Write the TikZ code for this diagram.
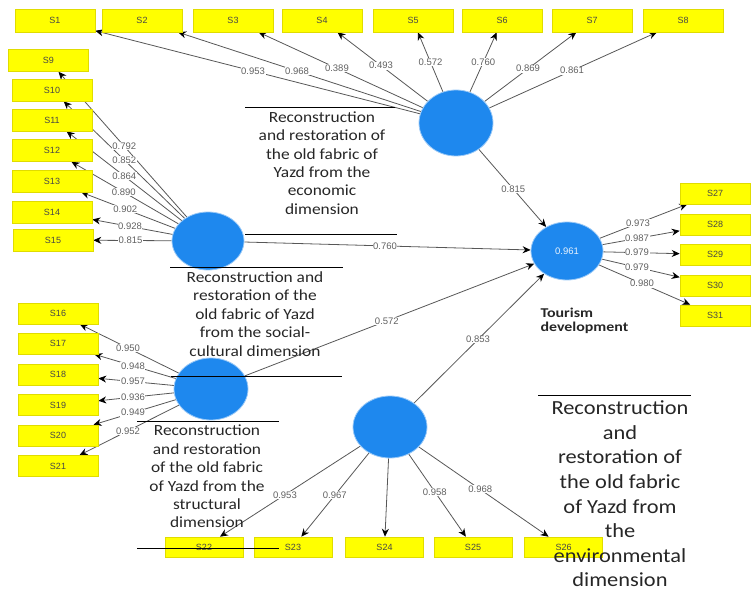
\documentclass[tikz,border=0pt]{standalone}
\usepackage{fontspec}
\setmainfont{Carlito}
\newfontfamily\labfont[FakeStretch=1.12]{Carlito}
\newfontfamily\numfont{Liberation Sans}
\newfontfamily\tourfont[FakeStretch=1.18]{Carlito}
\usetikzlibrary{shapes.geometric,arrows.meta,calc}
\pgfdeclarelayer{bg}
\pgfsetlayers{bg,main}
\definecolor{latblue}{HTML}{1E88EE}
\definecolor{boxyel}{HTML}{FFFF00}
\definecolor{boxedge}{HTML}{E0DC00}
\begin{document}
\begin{tikzpicture}[x=1pt,y=-1pt,
  ind/.style={draw=boxedge, fill=boxyel, line width=0.6pt, inner sep=0pt,
    font=\numfont\fontsize{9}{10}\selectfont, text=black!72},
  topind/.style={ind, minimum width=80pt, minimum height=23pt},
  leftind/.style={ind, minimum width=80pt, minimum height=22pt},
  strind/.style={ind, minimum width=80pt, minimum height=21pt},
  rightind/.style={ind, minimum width=70pt, minimum height=21pt},
  botind/.style={ind, minimum width=78pt, minimum height=20pt},
  lat/.style={ellipse, fill=latblue, draw=latblue!45!white, line width=0.8pt, inner sep=0pt},
  conn/.style={draw=black!66, line width=0.8pt, -{Stealth[length=8pt,width=7pt,color=black]}},
  ld/.style={fill=white, inner sep=0.6pt, font=\numfont\fontsize{9.5}{10}\selectfont, text=black!62},
  title/.style={align=center, text=black!85, font=\labfont\fontsize{15.5}{18.4}\selectfont},
  rule/.style={draw=black, line width=0.9pt}
]
\useasboundingbox (0,0) rectangle (752,593);

% latent variables
\node[lat, minimum width=74pt, minimum height=66pt] (eco) at (456,123) {};
\node[lat, minimum width=72pt, minimum height=58pt] (soc) at (208,241) {};
\node[lat, minimum width=74pt, minimum height=62pt] (str) at (211,389) {};
\node[lat, minimum width=74pt, minimum height=62pt] (env) at (390,427) {};
\node[lat, minimum width=72pt, minimum height=58pt, text=white!90!latblue,
      font=\numfont\fontsize{9.5}{10}\selectfont] (tour) at (567,251) {0.961};

% indicators
\foreach \n/\x in {1/55,2/142,3/233,4/322,5/413,6/502,7/592,8/683}
  \node[topind] (S\n) at (\x,20.5) {S\n};
\node[leftind] (S9) at (48.5,60.5) {S9};
\foreach \n/\y in {10/90,11/120,12/150.5,13/181,14/212}
  \node[leftind] (S\n) at (52,\y) {S\n};
\node[leftind] (S15) at (53,240) {S15};
\foreach \n/\y in {16/313.5,17/343.5,18/374.5,19/405,20/435.5,21/466}
  \node[strind] (S\n) at (58,\y) {S\n};
\foreach \n/\x in {22/204,23/293,24/384.5,25/473,26/563.5}
  \node[botind] (S\n) at (\x,547) {S\n};
\foreach \n/\y in {27/193.5,28/224.5,29/254.5,30/285.5,31/315.5}
  \node[rightind] (S\n) at (715,\y) {S\n};

% connectors
\begin{pgfonlayer}{bg}
  \foreach \n in {1,...,8} \draw[conn] (eco) -- (S\n);
  \foreach \n in {9,...,15} \draw[conn] (soc) -- (S\n);
  \foreach \n in {16,...,21} \draw[conn] (str) -- (S\n);
  \foreach \n in {22,...,26} \draw[conn] (env) -- (S\n);
  \foreach \n in {27,...,31} \draw[conn] (tour) -- (S\n);
  \foreach \a in {eco,soc,str,env} \draw[conn] (\a) -- (tour);
\end{pgfonlayer}

% loadings
\foreach \n/\f/\v in {1/.506/0.953,2/.506/0.968,3/.534/0.389,4/.56/0.493,
    5/.592/0.572,6/.592/0.760,7/.53/0.869,8/.511/0.861}
  \node[ld] at ($(eco)!\f!(S\n)$) {\v};
\foreach \n/\f/\v in {9/.525/0.792,10/.536/0.852,11/.537/0.864,12/.54/0.890,
    13/.53/0.902,14/.5/0.928,15/.5/0.815}
  \node[ld] at ($(soc)!\f!(S\n)$) {\v};
\foreach \n/\f/\v in {16/.542/0.950,17/.51/0.948,18/.51/0.957,19/.51/0.936,
    20/.51/0.949,21/.542/0.952}
  \node[ld] at ($(str)!\f!(S\n)$) {\v};
\foreach \n/\f/\v in {22/.565/0.953,23/.57/0.967,25/.54/0.958,26/.52/0.968}
  \node[ld] at ($(env)!\f!(S\n)$) {\v};
\foreach \n/\f/\v in {27/.48/0.973,28/.473/0.987,29/.473/0.979,30/.473/0.979,31/.507/0.980}
  \node[ld] at ($(tour)!\f!(S\n)$) {\v};
\node[ld] at ($(eco)!.516!(tour)$) {0.815};
\node[ld] at ($(soc)!.493!(tour)$) {0.760};
\node[ld] at ($(str)!.494!(tour)$) {0.572};
\node[ld] at ($(env)!.497!(tour)$) {0.853};

% titles
\node[title] (tEco) at (322,163) {Reconstruction\\and restoration of\\the old fabric of\\Yazd from the\\economic\\dimension};
\node[title] (tSoc) at (255,314) {Reconstruction and\\restoration of the\\old fabric of Yazd\\from the social-\\cultural dimension};
\node[title] (tStr) at (207,476.5) {Reconstruction\\and restoration\\of the old fabric\\of Yazd from the\\structural\\dimension};
\node[title, font=\labfont\fontsize{20}{24.6}\selectfont] (tEnv) at (620,494)
  {Reconstruction\\and\\restoration of\\the old fabric\\of Yazd from\\the\\environmental\\dimension};
\node[align=left, anchor=west, text=black!85, font=\tourfont\bfseries\fontsize{13.5}{13.5}\selectfont]
  (tTour) at (537,321) {Tourism\\development};

% rules
\coordinate (r1a) at (245,107); \coordinate (r1b) at (395,107);
\coordinate (r2a) at (245,234); \coordinate (r2b) at (397,234);
\coordinate (r3a) at (170,267); \coordinate (r3b) at (343,267);
\coordinate (r4a) at (171,376); \coordinate (r4b) at (342,376);
\coordinate (r5a) at (137,421); \coordinate (r5b) at (279,421);
\coordinate (r6a) at (137,548); \coordinate (r6b) at (279,548);
\coordinate (r7a) at (538,395); \coordinate (r7b) at (691,395);
\foreach \r in {1,...,7} \draw[rule] (r\r a) -- (r\r b);
\end{tikzpicture}
\end{document}
